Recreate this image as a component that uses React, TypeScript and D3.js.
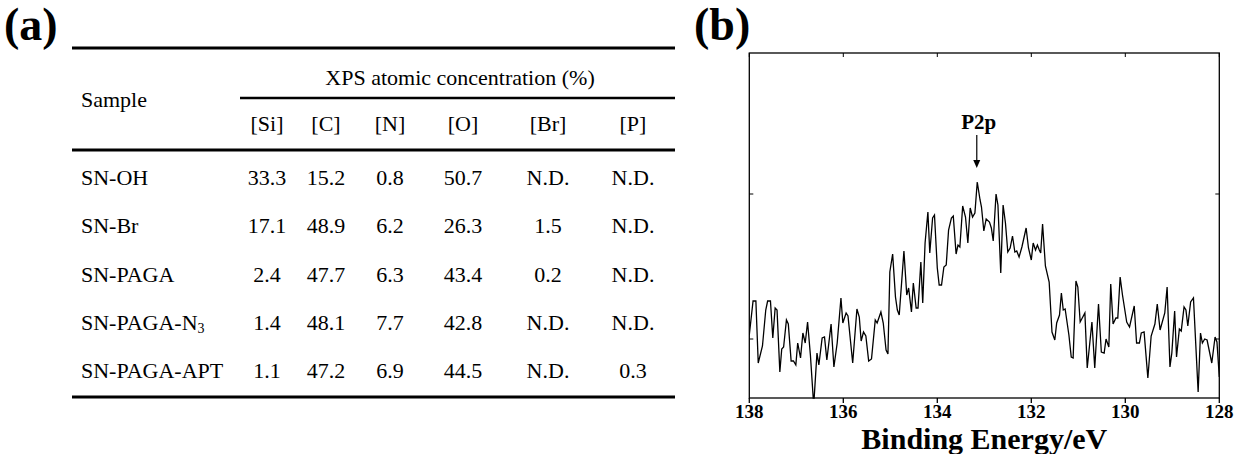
import React from 'react';
import * as d3 from 'd3';

// ---------- Panel (a): table data ----------
const samples = ['SN-OH', 'SN-Br', 'SN-PAGA', 'SN-PAGA-N3', 'SN-PAGA-APT'];
const elements = ['[Si]', '[C]', '[N]', '[O]', '[Br]', '[P]'];
const siConc = ['33.3', '17.1', '2.4', '1.4', '1.1'];
const cConc = ['15.2', '48.9', '47.7', '48.1', '47.2'];
const nConc = ['0.8', '6.2', '6.3', '7.7', '6.9'];
const oConc = ['50.7', '26.3', '43.4', '42.8', '44.5'];
const brConc = ['N.D.', '1.5', '0.2', 'N.D.', 'N.D.'];
const pConc = ['N.D.', 'N.D.', 'N.D.', 'N.D.', '0.3'];
const tableHeader = 'XPS atomic concentration (%)';

// ---------- Panel (b): P2p spectrum ----------
const bindingEnergy = [
  138.00, 137.92, 137.86, 137.81, 137.72, 137.65, 137.61, 137.55, 137.50, 137.45,
  137.41, 137.35, 137.31, 137.27, 137.21, 137.17, 137.11, 137.06, 137.01, 136.97,
  136.91, 136.86, 136.81, 136.76, 136.70, 136.64, 136.62, 136.56, 136.52, 136.45,
  136.40, 136.35, 136.26, 136.20, 136.13, 136.05, 136.01, 135.94, 135.90, 135.80,
  135.71, 135.66, 135.62, 135.57, 135.52, 135.46, 135.40, 135.32, 135.28, 135.20,
  135.15, 135.09, 135.05, 135.01, 134.95, 134.89, 134.85, 134.81, 134.71, 134.65,
  134.61, 134.55, 134.51, 134.45, 134.41, 134.35, 134.31, 134.26, 134.20, 134.16,
  134.10, 134.06, 134.00, 133.96, 133.91, 133.86, 133.81, 133.76, 133.70, 133.66,
  133.60, 133.56, 133.52, 133.46, 133.40, 133.35, 133.30, 133.25, 133.20, 133.15,
  133.09, 133.06, 133.01, 132.96, 132.89, 132.85, 132.81, 132.75, 132.71, 132.65,
  132.60, 132.55, 132.50, 132.45, 132.40, 132.35, 132.31, 132.26, 132.20, 132.11,
  132.06, 132.00, 131.96, 131.91, 131.87, 131.83, 131.80, 131.76, 131.70, 131.62,
  131.56, 131.50, 131.46, 131.40, 131.36, 131.32, 131.28, 131.20, 131.15, 131.11,
  131.05, 131.01, 130.96, 130.86, 130.81, 130.71, 130.65, 130.57, 130.51, 130.45,
  130.41, 130.35, 130.31, 130.26, 130.20, 130.16, 130.11, 130.06, 129.97, 129.91,
  129.81, 129.76, 129.70, 129.66, 129.60, 129.52, 129.45, 129.37, 129.32, 129.26,
  129.16, 129.11, 129.05, 129.01, 128.95, 128.91, 128.85, 128.81, 128.75, 128.71,
  128.67, 128.61, 128.55, 128.45, 128.40, 128.36, 128.31, 128.26, 128.16, 128.09,
  128.05, 128.00,
];
const intensity = [
  63, 97, 97, 35, 52, 88, 97, 97, 60, 90,
  88, 26, 49, 51, 78, 74, 37, 37, 33, 55,
  40, 65, 55, 76, 43, 0, 0, 45, 33, 60,
  61, 38, 74, 31, 55, 100, 75, 85, 82, 35,
  89, 81, 57, 66, 62, 37, 39, 78, 75, 86,
  75, 48, 44, 126, 144, 101, 88, 83, 147, 103,
  110, 86, 115, 90, 90, 136, 95, 155, 186, 145,
  180, 183, 130, 113, 113, 131, 133, 168, 180, 182,
  144, 153, 151, 192, 181, 155, 190, 181, 185, 216,
  198, 191, 167, 179, 176, 170, 157, 204, 193, 125,
  193, 175, 146, 150, 162, 146, 147, 141, 151, 170,
  150, 138, 155, 148, 153, 148, 145, 174, 132, 116,
  66, 58, 75, 83, 105, 88, 89, 63, 41, 40,
  117, 111, 76, 85, 30, 76, 30, 94, 46, 45,
  59, 51, 114, 74, 80, 80, 121, 103, 76, 71,
  92, 55, 55, 65, 66, 20, 62, 74, 94, 68,
  85, 111, 31, 45, 87, 41, 69, 67, 91, 88,
  72, 96, 100, 6, 65, 55, 59, 58, 35, 61,
  56, 21,
];
const xTicks = [138, 136, 134, 132, 130, 128];
const yTicks = [59, 204];
const peakEnergy = 133.16;
const peakLabel = 'P2p';
const xLabel = 'Binding Energy/eV';

const SERIF = "'Liberation Serif', 'Times New Roman', Times, 'DejaVu Serif', serif";
const serifStyle = { fontFamily: SERIF };

function SampleLabel({ name, x, y }: { name: string; x: number; y: number }) {
  const m = name.match(/^(.*N)(3)$/);
  if (m) {
    return (
      <text x={x} y={y} fontSize={22} style={serifStyle}>
        {m[1]}
        <tspan fontSize={14} dy={3}>{m[2]}</tspan>
      </text>
    );
  }
  return <text x={x} y={y} fontSize={22} style={serifStyle}>{name}</text>;
}

function TablePanel() {
  const colX = d3.scaleOrdinal<string, number>()
    .domain(elements)
    .range([267, 326, 390, 463, 548, 633]);
  const rowY = d3.scaleLinear().domain([0, samples.length - 1]).range([185, 378]);
  const columns = [siConc, cConc, nConc, oConc, brConc, pConc];
  const left = 72;
  const right = 675;
  return (
    <g fill="#000">
      <text x={4} y={40} fontSize={46} fontWeight="bold" style={serifStyle}>(a)</text>
      <line x1={left} x2={right} y1={48} y2={48} stroke="#000" strokeWidth={3} />
      <text x={460} y={85} fontSize={22} textAnchor="middle" style={serifStyle}>{tableHeader}</text>
      <text x={81} y={107} fontSize={22} style={serifStyle}>Sample</text>
      <line x1={240} x2={right} y1={98} y2={98} stroke="#000" strokeWidth={2.5} />
      {elements.map((e) => (
        <text key={e} x={colX(e)} y={131} fontSize={22} textAnchor="middle" style={serifStyle}>{e}</text>
      ))}
      <line x1={left} x2={right} y1={150} y2={150} stroke="#000" strokeWidth={3} />
      {samples.map((s, i) => (
        <g key={s}>
          <SampleLabel name={s} x={81} y={rowY(i)} />
          {columns.map((col, j) => (
            <text key={j} x={colX(elements[j])} y={rowY(i)} fontSize={22} textAnchor="middle" style={serifStyle}>
              {col[i]}
            </text>
          ))}
        </g>
      ))}
      <line x1={left} x2={right} y1={397} y2={397} stroke="#000" strokeWidth={3} />
    </g>
  );
}

function SpectrumPanel() {
  const x0 = 749.3, x1 = 1219.3, yTop = 53, yBot = 398;
  const x = d3.scaleLinear().domain([138, 128]).range([x0, x1]);
  const y = d3.scaleLinear().domain([0, 345]).range([yBot, yTop]);
  const pts = bindingEnergy.map((be, i) => [be, intensity[i]] as [number, number]);
  const line = d3.line<[number, number]>().x((d) => x(d[0])).y((d) => y(d[1]));
  const px = x(peakEnergy);
  const tipY = y(230);
  return (
    <g>
      <text x={694} y={40} fontSize={46} fontWeight="bold" style={serifStyle}>(b)</text>
      <defs>
        <clipPath id="plotclip">
          <rect x={x0} y={yTop} width={x1 - x0} height={yBot - yTop + 1} />
        </clipPath>
      </defs>
      <path d={line(pts) || ''} fill="none" stroke="#000" strokeWidth={1.3}
        strokeLinejoin="miter" clipPath="url(#plotclip)" />
      <rect x={x0} y={yTop} width={x1 - x0} height={yBot - yTop} fill="none" stroke="#000" strokeWidth={1.3} />
      {xTicks.map((t) => (
        <g key={t}>
          <line x1={x(t)} x2={x(t)} y1={yBot} y2={yBot + 5} stroke="#000" strokeWidth={1.3} />
          <line x1={x(t)} x2={x(t)} y1={yTop} y2={yTop + 4} stroke="#000" strokeWidth={1} />
          <text x={x(t)} y={418} fontSize={19} fontWeight="bold" textAnchor="middle" style={serifStyle}>{t}</text>
        </g>
      ))}
      {yTicks.map((t) => (
        <g key={t}>
          <line x1={x0} x2={x0 + 4} y1={y(t)} y2={y(t)} stroke="#000" strokeWidth={1} />
          <line x1={x1 - 4} x2={x1} y1={y(t)} y2={y(t)} stroke="#000" strokeWidth={1} />
        </g>
      ))}
      <text x={(x0 + x1) / 2} y={449} fontSize={30} fontWeight="bold" textAnchor="middle" style={serifStyle}>{xLabel}</text>
      <text x={px + 2} y={y(269)} fontSize={21} fontWeight="bold" textAnchor="middle" style={serifStyle}>{peakLabel}</text>
      <line x1={px} x2={px} y1={y(263)} y2={tipY - 6} stroke="#000" strokeWidth={1.2} />
      <path d={`M${px - 3.5},${tipY - 8} L${px + 3.5},${tipY - 8} L${px},${tipY} Z`} fill="#000" />
    </g>
  );
}

export default function App() {
  return (
    <svg width={1234} height={454} style={{ position: 'absolute', left: 0, top: 0, background: '#fff', fontFamily: SERIF }}>
      <rect width={1234} height={454} fill="#fff" />
      <TablePanel />
      <SpectrumPanel />
    </svg>
  );
}
